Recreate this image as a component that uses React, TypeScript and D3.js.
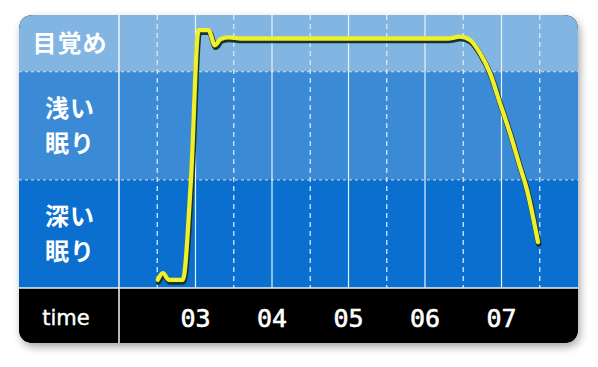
import React from "react";
import * as d3 from "d3";

const hours = [3, 4, 5, 6, 7];
const hourLabels = ["03", "04", "05", "06", "07"];
const halfHours = [2.5, 3.5, 4.5, 5.5, 6.5, 7.5];

const bandNames = ["深い眠り", "浅い眠り", "目覚め"];
const bandFrom = [0, 40, 80];
const bandTo = [40, 80, 101];
const bandLines = [["深い", "眠り"], ["浅い", "眠り"], ["目覚め"]];
const bandColors = ["#0a6fcf", "#3a8ad6", "#82b5e2"];

const sleepTime = [2.507, 2.573, 2.655, 2.833, 2.94, 3.04, 3.17, 3.254, 3.33, 3.436, 3.593, 4.5, 5.5, 6.3, 6.458, 6.588, 6.719, 6.85, 6.98, 7.111, 7.242, 7.333, 7.477];
const sleepDepth = [3.0, 5.5, 3.0, 3.0, 39.9, 95.4, 95.4, 89.8, 92.1, 92.7, 92.3, 92.3, 92.3, 92.3, 93.0, 91.75, 86.9, 79.5, 68.4, 57.3, 44.8, 36.3, 17.0];

export default function App() {
  const W = 598, H = 367;
  const cardL = 19, cardR = 578, cardT = 15, plotB = 288, cardB = 343;
  const x = d3.scaleLinear().domain([2, 8]).range([119, 578]);
  const y = d3.scaleLinear().domain([0, 101]).range([plotB, cardT]);
  const pts = sleepTime.map((t, i) => [x(t), y(sleepDepth[i])] as [number, number]);
  const line = d3.line().curve(d3.curveMonotoneX)(pts) || "";
  const r = 15;
  const cardPath = `M${cardL + r},${cardT} H${cardR - r} Q${cardR},${cardT} ${cardR},${cardT + r} V${cardB - r} Q${cardR},${cardB} ${cardR - r},${cardB} H${cardL + r} Q${cardL},${cardB} ${cardL},${cardB - r} V${cardT + r} Q${cardL},${cardT} ${cardL + r},${cardT} Z`;
  const jp = "'Noto Sans CJK JP', 'Noto Sans', sans-serif";
  return (
    <svg width={W} height={H} style={{ position: "absolute", left: 0, top: 0, background: "#fff" }}>
      <defs>
        <clipPath id="card"><path d={cardPath} /></clipPath>
        <filter id="shadow" x="-10%" y="-10%" width="120%" height="130%">
          <feDropShadow dx="2" dy="4" stdDeviation="4" floodColor="#000" floodOpacity="0.35" />
        </filter>
      </defs>
      <path d={cardPath} fill="#000" filter="url(#shadow)" />
      <g clipPath="url(#card)">
        {bandNames.map((n, i) => (
          <rect key={n} x={cardL} width={cardR - cardL} y={y(bandTo[i])} height={y(bandFrom[i]) - y(bandTo[i])} fill={bandColors[i]} />
        ))}
        <rect x={cardL} width={cardR - cardL} y={plotB} height={cardB - plotB} fill="#000" />
        {[40, 80].map((v) => (
          <line key={v} x1={cardL} x2={cardR} y1={y(v)} y2={y(v)} stroke="#cfe4f7" strokeWidth={1} strokeDasharray="3,3" />
        ))}
        {hours.map((h) => (
          <line key={h} x1={x(h)} x2={x(h)} y1={cardT} y2={plotB} stroke="#e8f2fb" strokeWidth={1.2} />
        ))}
        {halfHours.map((h) => (
          <line key={h} x1={x(h)} x2={x(h)} y1={cardT} y2={plotB} stroke="#d6e9fa" strokeWidth={1.3} strokeDasharray="5,4" />
        ))}
        <line x1={cardL} x2={cardR} y1={plotB} y2={plotB} stroke="#e8f2fb" strokeWidth={1.5} />
        <line x1={x(2)} x2={x(2)} y1={cardT} y2={cardB} stroke="#f2f7fc" strokeWidth={1.5} />
      </g>
      {bandNames.map((n, i) => {
        const cy = (y(bandFrom[i]) + y(bandTo[i])) / 2;
        const ls = bandLines[i];
        const lh = 35;
        return ls.map((l, j) => (
          <text key={n + j} x={70} y={cy + (j - (ls.length - 1) / 2) * lh} dy="0.36em" fill="#fff" fontFamily={jp} fontWeight={700} fontSize={24} textAnchor="middle" letterSpacing={1}>{l}</text>
        ));
      })}
      <text x={66} y={318} dy="0.35em" fill="#fff" stroke="#fff" strokeWidth={0.4} fontFamily="'DejaVu Sans', sans-serif" fontSize={21} textAnchor="middle">time</text>
      {hours.map((h, i) => (
        <text key={h} x={x(h)} y={318} dy="0.36em" fill="#fff" stroke="#fff" strokeWidth={0.6} fontFamily="'DejaVu Sans Mono', monospace" fontSize={25} textAnchor="middle">{hourLabels[i]}</text>
      ))}
      <path d={line} fill="none" stroke="#17352a" strokeWidth={5.5} strokeLinejoin="round" strokeLinecap="round" transform="translate(0.8,2)" />
      <path d={line} fill="none" stroke="#f0f02a" strokeWidth={4.3} strokeLinejoin="round" strokeLinecap="round" />
    </svg>
  );
}
